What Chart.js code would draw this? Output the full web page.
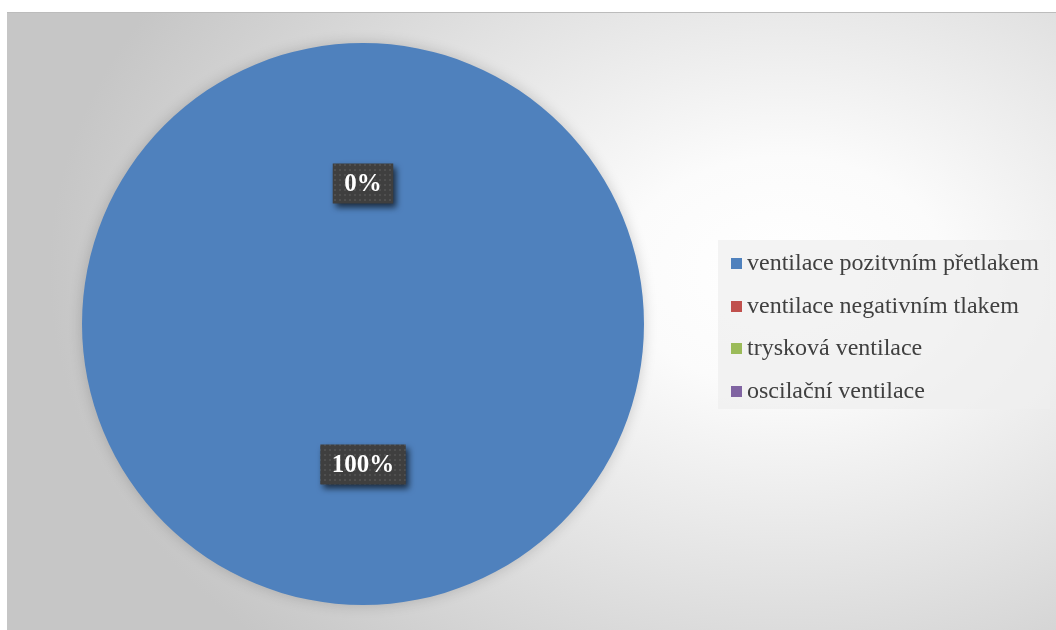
<!DOCTYPE html>
<html lang="cs">
<head>
<meta charset="UTF-8">
<title>Typy ventilace</title>
<script src="https://cdn.jsdelivr.net/npm/chart.js"></script>
<style>
  body { margin: 0; width: 1056px; height: 630px; overflow: hidden; background: #fff;
         font-family: "Liberation Serif", "Times New Roman", serif; }
  #plocha { position: absolute; left: 7px; top: 12px; width: 1049px; height: 618px;
            background: radial-gradient(ellipse 70% 85% at 74% 42%, #ffffff 0%, #fbfbfb 22%, #e3e3e3 58%, #c6c6c6 100%);
            border-top: 1px solid #bcbcbc; box-sizing: border-box; }
  #graf { position: absolute; left: 0; top: -1px; }
  #legenda { position: absolute; left: 711px; top: 227px; width: 332px; height: 169px;
             background: rgba(239, 239, 239, 0.73); padding-top: 1px; box-sizing: border-box; }
  .polozka { height: 42.5px; line-height: 42.5px; font-size: 24px; color: #404040; white-space: nowrap; }
  .znacka { display: inline-block; width: 11px; height: 11px; margin: 0 5px 0 13px; vertical-align: 1px; }
</style>
</head>
<body>
<div id="plocha">
  <canvas id="graf" width="1049" height="618"></canvas>
  <div id="legenda"></div>
</div>

<script>
  const kategorie = ['ventilace pozitvním přetlakem', 'ventilace negativním tlakem', 'trysková ventilace', 'oscilační ventilace'];
  const podily = [100, 0, 0, 0];
  const barvy = ['#4f81bd', '#c0504d', '#9bbb59', '#8064a2'];

  // legenda vpravo
  const legenda = document.getElementById('legenda');
  kategorie.forEach((nazev, i) => {
    const radek = document.createElement('div');
    radek.className = 'polozka';
    const znacka = document.createElement('span');
    znacka.className = 'znacka';
    znacka.style.background = barvy[i];
    radek.appendChild(znacka);
    radek.appendChild(document.createTextNode(nazev));
    legenda.appendChild(radek);
  });

  // tmavy teckovany podklad pod popisky
  function vzorPodkladu(ctx) {
    const c = document.createElement('canvas');
    c.width = 5; c.height = 5;
    const g = c.getContext('2d');
    g.fillStyle = '#3f3f3f';
    g.fillRect(0, 0, 5, 5);
    g.fillStyle = '#4f4f4f';
    g.fillRect(2, 2, 2, 2);
    return ctx.createPattern(c, 'repeat');
  }

  const stinKolace = {
    id: 'stinKolace',
    beforeDatasetsDraw(chart) {
      const ctx = chart.ctx;
      ctx.save();
      ctx.shadowColor = 'rgba(0,0,0,0.18)';
      ctx.shadowBlur = 14;
    },
    afterDatasetsDraw(chart) {
      chart.ctx.restore();
    }
  };

  const popisky = {
    id: 'popisky',
    afterDatasetsDraw(chart) {
      const ctx = chart.ctx;
      const data = chart.data.datasets[0].data;
      const soucet = data.reduce((a, b) => a + b, 0);
      const hotovo = new Set();
      ctx.save();
      ctx.font = 'bold 25px "Liberation Serif", "Times New Roman", serif';
      ctx.textAlign = 'center';
      ctx.textBaseline = 'middle';
      chart.getDatasetMeta(0).data.forEach((oblouk, i) => {
        const p = oblouk.getCenterPoint();
        const klic = Math.round(p.x) + ':' + Math.round(p.y);
        if (hotovo.has(klic)) return;
        hotovo.add(klic);
        const text = Math.round(data[i] / soucet * 100) + '%';
        const w = ctx.measureText(text).width + 23;
        const h = 40;
        ctx.save();
        ctx.shadowColor = 'rgba(0,0,0,0.65)';
        ctx.shadowBlur = 6;
        ctx.shadowOffsetX = 3;
        ctx.shadowOffsetY = 4;
        ctx.fillStyle = vzorPodkladu(ctx);
        ctx.fillRect(p.x - w / 2, p.y - h / 2, w, h);
        ctx.restore();
        ctx.fillStyle = '#ffffff';
        ctx.fillText(text, p.x, p.y + 1);
      });
      ctx.restore();
    }
  };

  new Chart(document.getElementById('graf'), {
    type: 'pie',
    data: {
      labels: kategorie,
      datasets: [{
        data: podily,
        backgroundColor: barvy,
        borderWidth: 0
      }]
    },
    options: {
      responsive: false,
      animation: false,
      layout: { padding: { left: 75, right: 412, top: 31, bottom: 25 } },
      plugins: {
        legend: { display: false },
        tooltip: { enabled: false }
      }
    },
    plugins: [stinKolace, popisky]
  });
</script>
</body>
</html>
